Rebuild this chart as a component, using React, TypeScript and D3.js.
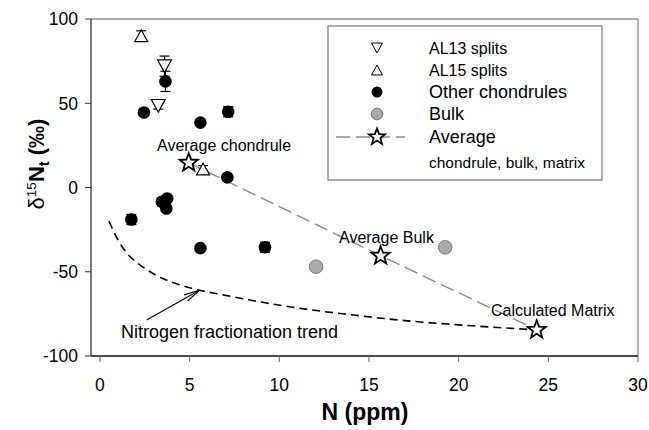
import React from 'react';
import * as d3 from 'd3';

// AL13 splits (down triangles)
const al13N = [3.6, 3.25];
const al13D = [72, 48.5];
const al13Err = [6, 2];

// AL15 splits (up triangles)
const al15N = [2.3, 5.75];
const al15D = [90, 11];
const al15Err = [3, 2];

// other chondrules
const otherN = [3.65, 2.45, 5.6, 7.15, 7.1, 3.45, 3.75, 3.7, 1.75, 5.6, 9.2];
const otherD = [63, 44.5, 38.5, 45, 6, -8.5, -6.5, -12.5, -19, -36, -35.5];
const otherErr = [6, 0, 0, 3, 2, 0, 0, 0, 3, 0, 3];

// bulk
const bulkN = [12.05, 19.25];
const bulkD = [-47, -35.5];

// averages
const avgN = [4.95, 15.65, 24.35];
const avgD = [14.7, -40.5, -84.5];
const avgLabels = ['Average chondrule', 'Average Bulk', 'Calculated Matrix'];

// nitrogen fractionation trend
const trendN = [0.5, 1, 1.5, 2, 2.5, 3.5, 5, 7, 9, 11, 14, 17, 20, 24.3];
const trendD = [-20, -31, -39, -44, -48, -54, -59.5, -64, -68, -71.5, -75.5, -79, -81.5, -84.5];

const xTicks = [0, 5, 10, 15, 20, 25, 30];
const yTicks = [-100, -50, 0, 50, 100];

const W = 649;
const H = 430;
const font = 'Arial, "Liberation Sans", sans-serif';

const x = d3.scaleLinear().domain([-0.5, 30]).range([91, 638]);
const y = d3.scaleLinear().domain([-100, 100]).range([356, 19]);

const starPath = (cx: number, cy: number, r: number) => {
  const pts: string[] = [];
  for (let i = 0; i < 10; i++) {
    const rad = i % 2 === 0 ? r : r * 0.42;
    const a = -Math.PI / 2 + (i * Math.PI) / 5;
    pts.push(`${cx + rad * Math.cos(a)},${cy + rad * Math.sin(a)}`);
  }
  return `M${pts.join('L')}Z`;
};

const triPath = (cx: number, cy: number, s: number, down: boolean) => {
  const h = s * 0.9;
  if (down) return `M${cx - s / 2},${cy - h / 2}L${cx + s / 2},${cy - h / 2}L${cx},${cy + h / 2}Z`;
  return `M${cx - s / 2},${cy + h / 2}L${cx + s / 2},${cy + h / 2}L${cx},${cy - h / 2}Z`;
};

function ErrBar({ n, d, e }: { n: number; d: number; e: number }) {
  if (!e) return null;
  const cx = x(n);
  const y1 = y(d + e);
  const y2 = y(d - e);
  return (
    <g stroke="#000" strokeWidth={1.2}>
      <line x1={cx} x2={cx} y1={y1} y2={y2} />
      <line x1={cx - 5} x2={cx + 5} y1={y1} y2={y1} />
      <line x1={cx - 5} x2={cx + 5} y1={y2} y2={y2} />
    </g>
  );
}

export default function App() {
  const trendLine = d3
    .line<number>()
    .x((_, i) => x(trendN[i]))
    .y((d) => y(d))
    .curve(d3.curveMonotoneX)(trendD) as string;

  const avgLine = d3
    .line<number>()
    .x((_, i) => x(avgN[i]))
    .y((d) => y(d))(avgD) as string;

  // arrow to the trend curve
  const ax1 = x(2.6), ay1 = y(-78.6);
  const ax2 = x(5.55), ay2 = y(-61);
  const ang = Math.atan2(ay2 - ay1, ax2 - ax1);
  const headL = 16;
  const hw = 0.22;
  const h1 = [ax2 - headL * Math.cos(ang - hw), ay2 - headL * Math.sin(ang - hw)];
  const h2 = [ax2 - headL * Math.cos(ang + hw), ay2 - headL * Math.sin(ang + hw)];

  const lx = 377;
  const tx = 429;
  const legendRows = [48, 70, 92, 114, 137];

  return (
    <div style={{ position: 'absolute', left: 0, top: 0 }}>
      <svg width={W} height={H} style={{ display: 'block', background: '#fff' }} fontFamily={font}>
        {/* frame */}
        <line x1={91} x2={638} y1={19} y2={19} stroke="#555" strokeWidth={1} />
        <line x1={638} x2={638} y1={19} y2={356} stroke="#777" strokeWidth={1.2} />
        <line x1={91} x2={91} y1={19} y2={356} stroke="#222" strokeWidth={1.2} />
        <line x1={91} x2={638} y1={356} y2={356} stroke="#111" strokeWidth={1.4} />

        {/* y ticks */}
        {yTicks.map((t) => (
          <g key={`y${t}`}>
            <line x1={85} x2={91} y1={y(t)} y2={y(t)} stroke="#333" strokeWidth={1} />
            <text x={78} y={y(t)} dy="0.36em" textAnchor="end" fontSize={17.5}>
              {t}
            </text>
          </g>
        ))}
        {/* x ticks */}
        {xTicks.map((t) => (
          <g key={`x${t}`}>
            <line x1={x(t)} x2={x(t)} y1={356} y2={362} stroke="#666" strokeWidth={1} />
            <text x={x(t)} y={391} textAnchor="middle" fontSize={17.5}>
              {t}
            </text>
          </g>
        ))}

        {/* axis titles */}
        <text x={365} y={420} textAnchor="middle" fontSize={23} fontWeight="bold">
          N (ppm)
        </text>
        <text transform="translate(44,164) rotate(-90)" textAnchor="middle" fontSize={22} fontWeight="bold">
          <tspan fontWeight="normal">δ</tspan>
          <tspan fontSize={13.5} fontWeight="normal" dy={-8}>15</tspan>
          <tspan dy={8}>N</tspan>
          <tspan fontSize={14.5} dy={5}>t</tspan>
          <tspan dy={-5}> (‰)</tspan>
        </text>

        {/* trend curve */}
        <path d={trendLine} fill="none" stroke="#000" strokeWidth={1.6} strokeDasharray="8,5" />
        {/* average line */}
        <path d={avgLine} fill="none" stroke="#8a8a8a" strokeWidth={1.4} strokeDasharray="14,6" />

        {/* arrow */}
        <g stroke="#000" strokeWidth={1.1} fill="none">
          <line x1={ax1} y1={ay1} x2={ax2} y2={ay2} />
          <path d={`M${h1[0]},${h1[1]}L${ax2},${ay2}L${h2[0]},${h2[1]}`} />
        </g>
        <text x={121} y={338} fontSize={18}>
          Nitrogen fractionation trend
        </text>

        {/* error bars */}
        {otherN.map((n, i) => <ErrBar key={`eo${i}`} n={n} d={otherD[i]} e={otherErr[i]} />)}
        {al13N.map((n, i) => <ErrBar key={`e13${i}`} n={n} d={al13D[i]} e={al13Err[i]} />)}
        {al15N.map((n, i) => <ErrBar key={`e15${i}`} n={n} d={al15D[i]} e={al15Err[i]} />)}

        {/* other chondrules */}
        {otherN.map((n, i) => (
          <circle key={`o${i}`} cx={x(n)} cy={y(otherD[i])} r={6.3} fill="#000" />
        ))}
        {/* bulk */}
        {bulkN.map((n, i) => (
          <circle key={`b${i}`} cx={x(n)} cy={y(bulkD[i])} r={6.8} fill="#aaa" stroke="#777" strokeWidth={1} />
        ))}
        {/* AL13 */}
        {al13N.map((n, i) => (
          <path key={`t13${i}`} d={triPath(x(n), y(al13D[i]), 14, true)} fill="#fff" stroke="#000" strokeWidth={1.2} />
        ))}
        {/* AL15 */}
        {al15N.map((n, i) => (
          <path key={`t15${i}`} d={triPath(x(n), y(al15D[i]), 13, false)} fill="#fff" stroke="#000" strokeWidth={1.2} />
        ))}
        {/* averages */}
        {avgN.map((n, i) => (
          <path key={`s${i}`} d={starPath(x(n), y(avgD[i]), 9.5)} fill="#fff" stroke="#000" strokeWidth={1.8} strokeLinejoin="miter" />
        ))}
        <text x={157} y={151} fontSize={16}>{avgLabels[0]}</text>
        <text x={339} y={243} fontSize={16}>{avgLabels[1]}</text>
        <text x={491} y={316} fontSize={16}>{avgLabels[2]}</text>

        {/* legend */}
        <rect x={328} y={26} width={274} height={154} fill="#fff" stroke="#777" strokeWidth={1.2} />
        <path d={triPath(lx, legendRows[0], 11, true)} fill="#fff" stroke="#000" strokeWidth={1} />
        <text x={tx} y={legendRows[0]} dy="0.36em" fontSize={16}>AL13 splits</text>
        <path d={triPath(lx, legendRows[1], 11, false)} fill="#fff" stroke="#000" strokeWidth={1} />
        <text x={tx} y={legendRows[1]} dy="0.36em" fontSize={16}>AL15 splits</text>
        <circle cx={lx} cy={legendRows[2]} r={5.5} fill="#000" />
        <text x={tx} y={legendRows[2]} dy="0.36em" fontSize={18}>Other chondrules</text>
        <circle cx={lx} cy={legendRows[3]} r={5.8} fill="#aaa" stroke="#777" strokeWidth={1} />
        <text x={tx} y={legendRows[3]} dy="0.36em" fontSize={18}>Bulk</text>
        <line x1={336} x2={405} y1={legendRows[4]} y2={legendRows[4]} stroke="#8a8a8a" strokeWidth={1.4} strokeDasharray="14,6" />
        <path d={starPath(lx, legendRows[4], 8.5)} fill="#fff" stroke="#000" strokeWidth={1.8} />
        <text x={tx} y={legendRows[4]} dy="0.36em" fontSize={18}>Average</text>
        <text x={tx} y={162} dy="0.36em" fontSize={15.5}>chondrule, bulk, matrix</text>
      </svg>
    </div>
  );
}
